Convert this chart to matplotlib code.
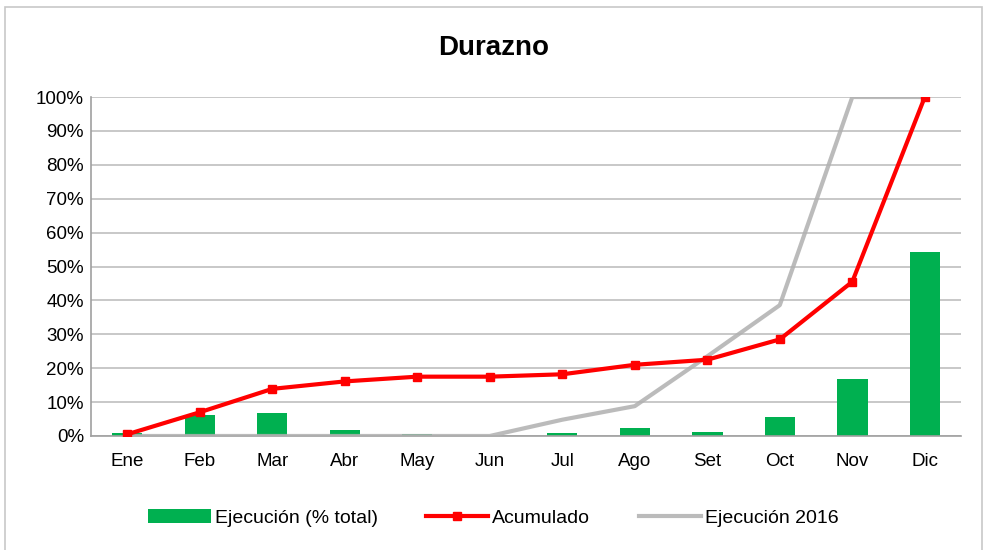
import matplotlib.pyplot as plt
from matplotlib.patches import Rectangle
from matplotlib.ticker import PercentFormatter

plt.rcParams['font.family'] = ['Liberation Sans Narrow', 'Liberation Sans', 'DejaVu Sans']

months = ['Ene', 'Feb', 'Mar', 'Abr', 'May', 'Jun', 'Jul', 'Ago', 'Set', 'Oct', 'Nov', 'Dic']
ejecucion = [0.8, 6.1, 6.7, 1.8, 0.7, 0.0, 0.8, 2.4, 1.3, 5.6, 16.8, 54.4]
acumulado = [0.5, 7.0, 13.9, 16.1, 17.5, 17.5, 18.2, 21.0, 22.5, 28.5, 45.5, 100.0]
ejec_2016 = [0.0, 0.0, 0.0, 0.0, 0.0, 0.0, 4.8, 8.8, 23.5, 38.6, 100.0, 100.0]

fig = plt.figure(figsize=(9.87, 5.5), dpi=100)
ax = fig.add_axes([0.0922, 0.2073, 0.8815, 0.6163])

x = range(len(months))
bars = ax.bar(x, ejecucion, width=0.42, color='#00b050', label='Ejecución (% total)', zorder=2)
l16, = ax.plot(x, ejec_2016, color='#b0b0b0', lw=3, alpha=0.85, label='Ejecución 2016', zorder=3)
lac, = ax.plot(x, acumulado, color='#ff0000', lw=3, marker='s', ms=6, label='Acumulado', zorder=4)

ax.set_xlim(-0.5, 11.5)
ax.set_ylim(0, 100)
ax.set_yticks(range(0, 101, 10))
ax.yaxis.set_major_formatter(PercentFormatter(decimals=0))
ax.set_xticks(list(x))
ax.set_xticklabels(months)
ax.tick_params(axis='both', labelsize=13.5, length=0, colors='black')
ax.tick_params(axis='x', pad=12)
ax.tick_params(axis='y', pad=5)
ax.grid(axis='y', color='#bfbfbf', lw=1.2, zorder=0)
ax.set_axisbelow(True)
for s in ['top', 'right']:
    ax.spines[s].set_visible(False)
for s in ['left', 'bottom']:
    ax.spines[s].set_color('#a0a0a0')
    ax.spines[s].set_linewidth(1.2)

fig.text(0.5, 0.912, 'Durazno', ha='center', va='center', fontsize=20, fontweight='bold')

fig.legend([bars, lac, l16], ['Ejecución (% total)', 'Acumulado', 'Ejecución 2016'],
           loc='center', bbox_to_anchor=(0.5, 0.058),
           ncol=3, frameon=False, fontsize=14, handlelength=3.2, columnspacing=2.5, handletextpad=0.2)

fig.patches.append(Rectangle((0.005, -0.01), 0.99, 0.997, transform=fig.transFigure,
                             fill=False, edgecolor='#c8c8c8', lw=1.2))

fig.savefig('out.png', dpi=100)
